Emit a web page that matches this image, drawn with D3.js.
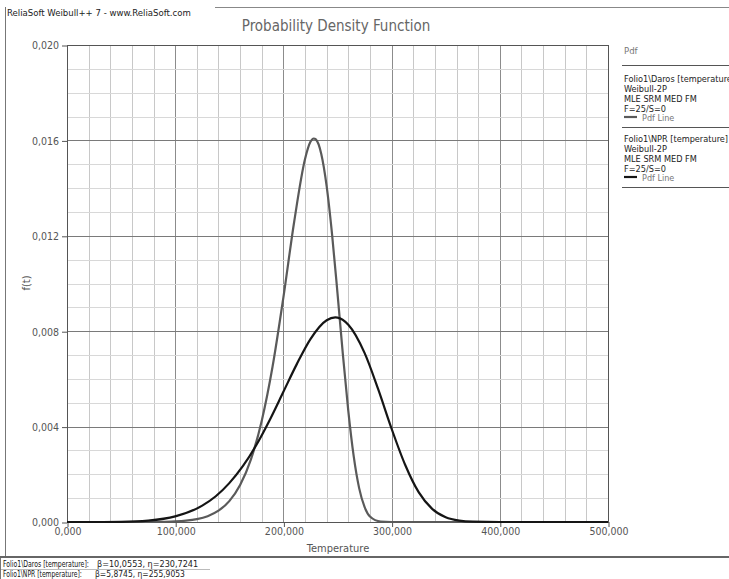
<!DOCTYPE html>
<html>
<head>
<meta charset="utf-8">
<script src="https://cdn.jsdelivr.net/npm/d3@7"></script>
<style>
  body { margin: 0; background: #fff; }
  svg text { font-family: "DejaVu Sans Condensed", "Liberation Sans", sans-serif; }
</style>
</head>
<body>
<div id="chart"></div>
<script>
// Folio1\Daros - temperature (x) vs pdf (y)
var darosT = [0, 60, 80, 90, 100, 110, 120, 130, 140, 150, 160, 170, 180, 190, 200, 210, 220, 225, 228, 230, 235, 240, 245, 250, 255, 260, 265, 270, 275, 280, 290, 300, 500];
var darosF = [0, 0, 0.000003, 0.0000088, 0.0000228, 0.0000539, 0.000118, 0.000243, 0.000473, 0.000877, 0.00155, 0.00263, 0.00425, 0.00652, 0.00942, 0.0126, 0.01522, 0.01594, 0.01608, 0.01604, 0.01543, 0.01407, 0.01205, 0.00959, 0.00701, 0.00465, 0.00275, 0.00142, 0.00063, 0.00023, 0.000017, 0, 0];
// Folio1\NPR
var nprT = [0, 25, 50, 75, 100, 125, 137.5, 150, 162.5, 175, 187.5, 200, 212.5, 225, 240, 248, 250, 260, 275, 287.5, 300, 312.5, 325, 337.5, 350, 362.5, 375, 400, 500];
var nprF = [0, 0, 0.000008, 0.000058, 0.000234, 0.000688, 0.00108, 0.00163, 0.00234, 0.00323, 0.00429, 0.00546, 0.00663, 0.00767, 0.00846, 0.008576, 0.00857, 0.00827, 0.00709, 0.00558, 0.00391, 0.0024, 0.00125, 0.00055, 0.000195, 0.000055, 0.000012, 0, 0];

var xTicks = [0, 100, 200, 300, 400, 500];
var yTicks = [0, 0.004, 0.008, 0.012, 0.016, 0.020];
var legendEntries = [
  ["Folio1\\Daros [temperature]", "Weibull-2P", "MLE SRM MED FM", "F=25/S=0"],
  ["Folio1\\NPR [temperature]", "Weibull-2P", "MLE SRM MED FM", "F=25/S=0"]
];
var footLabels = ["Folio1\\Daros [temperature]:", "Folio1\\NPR [temperature]:"];
var footParams = ["\u03b2=10,0553, \u03b7=230,7241", "\u03b2=5,8745, \u03b7=255,9053"];
var lineColors = ["#5a5a5a", "#151515"];

(function(){
var width = 729, height = 579;
var pLeft = 67, pRight = 608, pTop = 45, pBottom = 522;

var svg = d3.select("#chart").append("svg")
    .attr("width", width)
    .attr("height", height);

var loc = d3.formatLocale({decimal: ",", thousands: ".", grouping: [3], currency: ["", ""]});
var fmt = loc.format(".3f");

var x = d3.scaleLinear().domain([0, 500]).range([pLeft, pRight]);
var y = d3.scaleLinear().domain([0, 0.020]).range([pBottom, pTop]);

// outer frame
svg.append("line").attr("x1", 5.5).attr("x2", 5.5).attr("y1", 7).attr("y2", 556)
    .attr("stroke", "#777");
svg.append("line").attr("x1", 215).attr("x2", width).attr("y1", 7.5).attr("y2", 7.5)
    .attr("stroke", "#888");
svg.append("text").attr("x", 7).attr("y", 16)
    .attr("font-size", 9.5).attr("fill", "#222")
    .text("ReliaSoft Weibull++ 7 - www.ReliaSoft.com");

// grid - minor first, major darker
var grid = svg.append("g");
grid.selectAll(".v").data(d3.range(0, 501, 20))
  .enter().append("line")
    .attr("x1", function(d){ return Math.round(x(d)) + 0.5; })
    .attr("x2", function(d){ return Math.round(x(d)) + 0.5; })
    .attr("y1", pTop).attr("y2", pBottom)
    .attr("stroke", function(d){ return d % 100 === 0 ? "#8c8c8c" : "#c8c8c8"; });
grid.selectAll(".h").data(d3.range(0, 21, 1))
  .enter().append("line")
    .attr("y1", function(d){ return Math.round(y(d / 1000)) + 0.5; })
    .attr("y2", function(d){ return Math.round(y(d / 1000)) + 0.5; })
    .attr("x1", pLeft).attr("x2", pRight)
    .attr("stroke", function(d){ return d % 4 === 0 ? "#7a7a7a" : "#d8d8d8"; });

// frame of the plot
svg.append("rect").attr("x", pLeft + 0.5).attr("y", pTop + 0.5)
    .attr("width", pRight - pLeft).attr("height", pBottom - pTop)
    .attr("fill", "none").attr("stroke", "#555");

// axes
var xAxis = d3.axisBottom(x).tickValues(xTicks).tickFormat(fmt).tickSize(5);
var yAxis = d3.axisLeft(y).tickValues(yTicks).tickFormat(fmt).tickSize(5);
var gx = svg.append("g").attr("transform", "translate(0.5," + pBottom + ")").call(xAxis);
var gy = svg.append("g").attr("transform", "translate(" + pLeft + ",0.5)").call(yAxis);
[gx, gy].forEach(function(g){
  g.select(".domain").remove();
  g.selectAll("line").attr("stroke", "#555");
  g.selectAll("text").attr("fill", "#555").attr("font-size", 10.5)
    .style("font-family", "\"DejaVu Sans Condensed\", \"Liberation Sans\", sans-serif");
});
gx.selectAll("text").attr("dy", "0.45em");

svg.append("text").attr("x", 336).attr("y", 31).attr("text-anchor", "middle")
    .attr("font-size", 15).attr("fill", "#666").text("Probability Density Function");
svg.append("text").attr("x", 338).attr("y", 552).attr("text-anchor", "middle")
    .attr("font-size", 11).attr("fill", "#555").text("Temperature");
svg.append("text").attr("transform", "translate(30,283) rotate(-90)")
    .attr("text-anchor", "middle").attr("font-size", 11).attr("fill", "#555").text("f(t)");

// curves
var line = d3.line()
    .x(function(d){ return x(d[0]); })
    .y(function(d){ return y(d[1]); })
    .curve(d3.curveMonotoneX);
var series = [d3.zip(darosT, darosF), d3.zip(nprT, nprF)];
svg.selectAll(".curve").data(series)
  .enter().append("path")
    .attr("d", line)
    .attr("fill", "none")
    .attr("stroke", function(d, i){ return lineColors[i]; })
    .attr("stroke-width", 2.2);

// legend
var lg = svg.append("g");
lg.append("text").attr("x", 624).attr("y", 54).attr("font-size", 9.5).attr("fill", "#777").text("Pdf");
lg.append("line").attr("x1", 622).attr("x2", width).attr("y1", 65.5).attr("y2", 65.5).attr("stroke", "#555");
legendEntries.forEach(function(lines, i){
  var y0 = 66 + i * 60;
  lines.forEach(function(t, j){
    lg.append("text").attr("x", 624).attr("y", y0 + 16 + j * 10)
      .attr("font-size", 9.1).attr("fill", "#222").text(t);
  });
  lg.append("line").attr("x1", 624).attr("x2", 637)
    .attr("y1", y0 + 51).attr("y2", y0 + 51)
    .attr("stroke", lineColors[i]).attr("stroke-width", 2.2);
  lg.append("text").attr("x", 642).attr("y", y0 + 55)
    .attr("font-size", 9).attr("fill", "#777").text("Pdf Line");
  lg.append("line").attr("x1", 622).attr("x2", width)
    .attr("y1", y0 + 61.5).attr("y2", y0 + 61.5).attr("stroke", "#555");
});

// footer with parameters - narrow text squeezed to the widths seen in the picture
function squeezed(t, x0, yy, size, w, fill) {
  var el = svg.append("text").attr("font-size", size).attr("fill", fill).text(t);
  var s = Math.min(1, w / el.node().getComputedTextLength());
  el.attr("transform", "translate(" + x0 + "," + yy + ") scale(" + s + ",1)");
}
svg.append("rect").attr("x", 0).attr("y", 556).attr("width", width).attr("height", 2).attr("fill", "#666");
footLabels.forEach(function(t, i){
  var yy = 567 + i * 10;
  squeezed(t, 3, yy, 9.5, i === 0 ? 86 : 79, "#111");
  squeezed(footParams[i], i === 0 ? 97 : 95, yy, 9, i === 0 ? 108 : 90, "#222");
  svg.append("line").attr("x1", 0).attr("x2", 210).attr("y1", yy + 2.5).attr("y2", yy + 2.5).attr("stroke", "#bbb");
});
svg.append("line").attr("x1", 0.5).attr("x2", 0.5).attr("y1", 558).attr("y2", 579).attr("stroke", "#777");
})();
</script>
</body>
</html>
